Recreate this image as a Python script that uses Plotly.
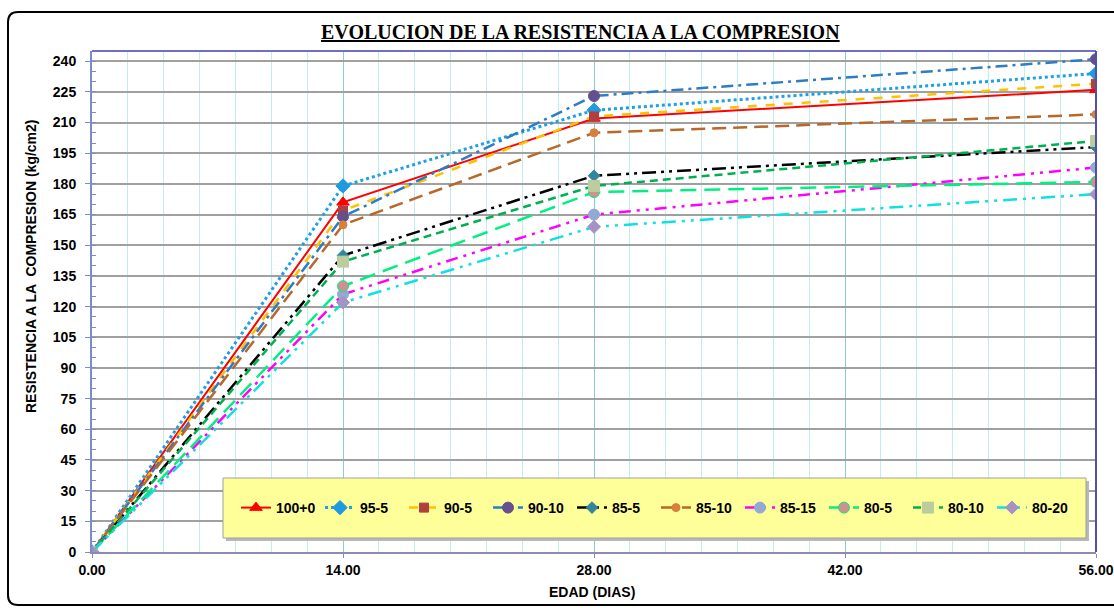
import plotly.graph_objects as go

# Edad de ensayo (días) y resistencias medidas por dosificación
edad = [0, 14, 28, 56]

series = ["100+0", "95-5", "90-5", "90-10", "85-5", "85-10", "85-15", "80-5", "80-10", "80-20"]
r_100_0 = [0, 171, 212, 226]
r_95_5 = [0, 179, 216, 234]
r_90_5 = [0, 167, 213, 229]
r_90_10 = [0, 164, 223, 241]
r_85_5 = [0, 145, 184, 198]
r_85_10 = [0, 160, 205, 214]
r_85_15 = [0, 126, 165, 188]
r_80_5 = [0, 130, 176, 181]
r_80_10 = [0, 142, 179, 201]
r_80_20 = [0, 122, 159, 175]
valores = [r_100_0, r_95_5, r_90_5, r_90_10, r_85_5, r_85_10, r_85_15, r_80_5, r_80_10, r_80_20]

x_ticks = [0, 14, 28, 42, 56]
x_tick_text = ["0.00", "14.00", "28.00", "42.00", "56.00"]
y_ticks = list(range(0, 241, 15))

# estilos: color de línea, trazo, símbolo, color de marcador, tamaño, grosor
estilos = [
    ("#FF0000", "solid", "triangle-up", "#FF0000", 11, 2),
    ("#1EA0E6", "dot", "diamond", "#1E9BE0", 11, 3),
    ("#FFC000", "dash", "square", "#B04040", 9, 2.5),
    ("#2E7CC6", "12px,5px,3px,5px", "circle", "#64508C", 11, 2.5),
    ("#000000", "14px,5px,3px,5px,3px,5px", "diamond", "#31859C", 9, 2.5),
    ("#B8682A", "14px,7px", "circle", "#D8803A", 8, 2.5),
    ("#FF00FF", "12px,6px,3px,6px,3px,6px", "circle", "#94A8D4", 11, 2.5),
    ("#00F080", "16px,8px", "circle", "#D09090", 11, 2.5),
    ("#00B050", "8px,5px", "square", "#BCCC9C", 11, 2.5),
    ("#10E0E0", "14px,6px,3px,6px,3px,6px", "diamond", "#A494C4", 10, 2.5),
]

W, H = 1114, 608
L, R, T, B = 92, 1096, 51, 552


def px(x):
    return (x - L) / (R - L)


def py(y):
    return (B - y) / (B - T)


fig = go.Figure()
for nombre, vals, (lc, dash, sym, mc, ms, lw) in zip(series, valores, estilos):
    edge = "#00F080" if nombre == "80-5" else mc
    fig.add_trace(go.Scatter(
        x=edad, y=vals, name=nombre, mode="lines+markers",
        line=dict(color=lc, dash=dash, width=lw),
        marker=dict(symbol=sym, color=mc, size=ms, line=dict(color=edge, width=1)),
    ))

# caja de la leyenda con sombra
fig.add_shape(type="rect", xref="paper", yref="paper",
              x0=px(226), x1=px(1089), y0=py(541), y1=py(481),
              fillcolor="#B8B8B8", line=dict(width=0), layer="above")
fig.add_shape(type="rect", xref="paper", yref="paper",
              x0=px(223), x1=px(1086), y0=py(538), y1=py(478),
              fillcolor="#FFFF99", line=dict(color="#A0A0A0", width=1), layer="above")

# marco redondeado del gráfico
x0, x1, y0, y1, r = 8, 1130, 12, 605, 10
path = (f"M {px(x0)},{py(y0 + r)} L {px(x0)},{py(y1 - r)} "
        f"Q {px(x0)},{py(y1)} {px(x0 + r)},{py(y1)} L {px(x1)},{py(y1)} "
        f"L {px(x1)},{py(y0)} L {px(x0 + r)},{py(y0)} "
        f"Q {px(x0)},{py(y0)} {px(x0)},{py(y0 + r)} Z")
fig.add_shape(type="path", xref="paper", yref="paper", path=path,
              line=dict(color="#000000", width=2), fillcolor="rgba(0,0,0,0)")

fig.add_annotation(
    text="<b><u>EVOLUCION DE LA RESISTENCIA A LA COMPRESION</u></b>",
    xref="paper", yref="paper", x=px(580), y=py(32), showarrow=False,
    xanchor="center", yanchor="middle",
    font=dict(family="Liberation Serif", size=20, color="#000000"),
)
fig.add_annotation(
    text="<b>RESISTENCIA A LA  COMPRESION (kg/cm2)</b>",
    xref="paper", yref="paper", x=px(31), y=py(266), showarrow=False, textangle=-90,
    xanchor="center", yanchor="middle",
    font=dict(family="Liberation Sans", size=14, color="#000000"),
)
fig.add_annotation(
    text="<b>EDAD (DIAS)</b>",
    xref="paper", yref="paper", x=px(592), y=py(592), showarrow=False,
    xanchor="center", yanchor="middle",
    font=dict(family="Liberation Sans", size=14, color="#000000"),
)

fig.update_layout(
    width=W, height=H,
    margin=dict(l=L, r=W - R, t=T, b=H - B, autoexpand=False),
    paper_bgcolor="#FFFFFF", plot_bgcolor="#FFFFFF",
    font=dict(family="Liberation Sans", size=14, color="#000000"),
    showlegend=True,
    legend=dict(
        orientation="h", x=px(236), y=py(508), xanchor="left", yanchor="middle",
        bgcolor="rgba(0,0,0,0)", borderwidth=0, entrywidth=39,
        font=dict(family="Liberation Sans", size=14, color="#000000", weight="bold"),
        itemwidth=30, traceorder="normal",
    ),
    xaxis=dict(
        range=[0, 56], tickvals=x_ticks, ticktext=x_tick_text, automargin=False,
        showgrid=True, gridcolor="#8CCFD2", gridwidth=1,
        minor=dict(dtick=2, tick0=0, showgrid=True, gridcolor="#C2ECEE", gridwidth=1),
        showline=True, linecolor="#8C8CB0", linewidth=2, mirror=False,
        ticks="outside", ticklen=4, tickcolor="#8C8CB0",
        tickfont=dict(family="Liberation Sans", size=14, weight="bold"),
        zeroline=False,
    ),
    yaxis=dict(
        range=[0, 245], tickvals=y_ticks, automargin=False,
        showgrid=True, gridcolor="#A0A0A0", gridwidth=1.5,
        minor=dict(dtick=5, tick0=0, ticks="inside", ticklen=4, tickcolor="#7C8CC8", showgrid=False),
        showline=True, linecolor="#7C8CC8", linewidth=2, mirror=False,
        ticks="outside", ticklen=5, tickcolor="#7C8CC8", ticklabelstandoff=6,
        tickfont=dict(family="Liberation Sans", size=14, weight="bold"),
        zeroline=False,
    ),
)
# borde superior y derecho del área de trazado
fig.add_shape(type="line", xref="paper", yref="paper", x0=0, x1=1, y0=1, y1=1,
              line=dict(color="#7070C0", width=2))
fig.add_shape(type="line", xref="paper", yref="paper", x0=1, x1=1, y0=0, y1=1,
              line=dict(color="#5050A8", width=2))

fig.write_html("out.html")
